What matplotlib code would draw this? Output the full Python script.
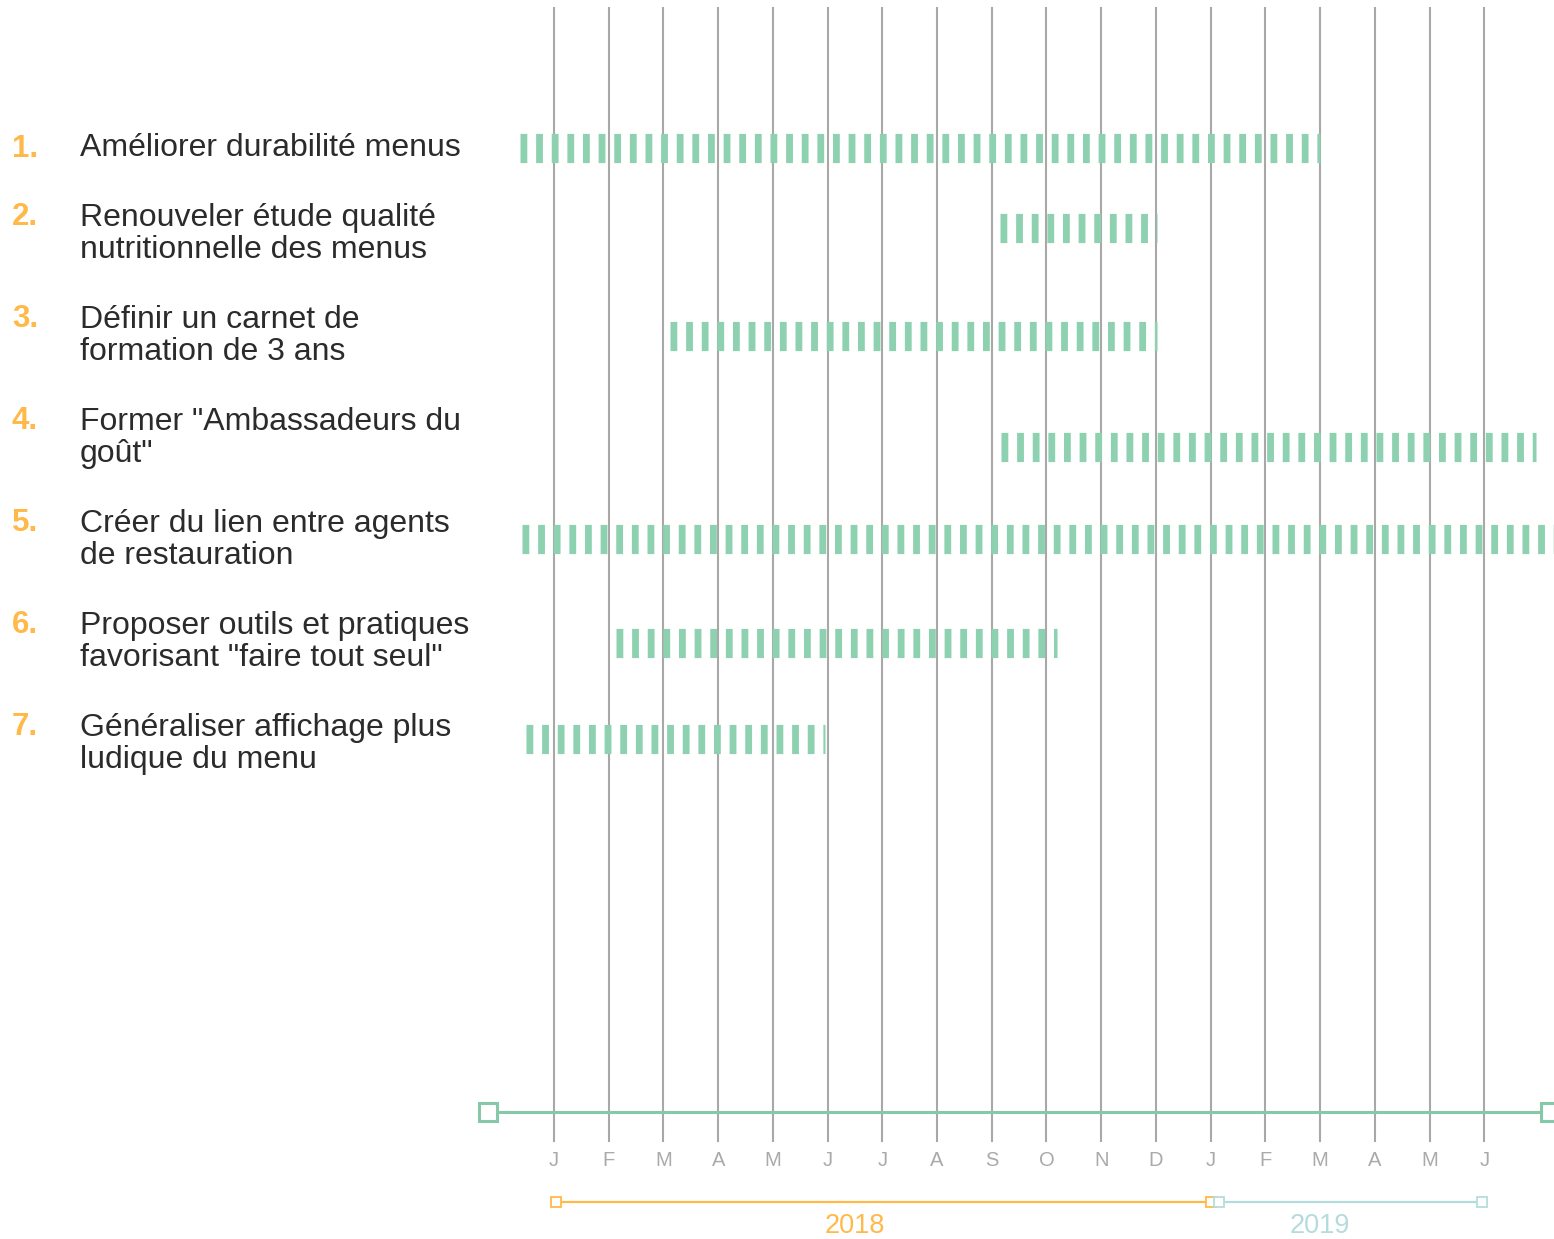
import matplotlib
matplotlib.use("Agg")
import matplotlib.pyplot as plt

plt.rcParams['font.family'] = ['Liberation Sans', 'DejaVu Sans']
plt.rcParams['lines.scale_dashes'] = False

# === Data (months counted from Jan 2018 = 0) ===
actions = [
    "Améliorer durabilité menus",
    "Renouveler étude qualité\nnutritionnelle des menus",
    "Définir un carnet de\nformation de 3 ans",
    "Former \"Ambassadeurs du\ngoût\"",
    "Créer du lien entre agents\nde restauration",
    "Proposer outils et pratiques\nfavorisant \"faire tout seul\"",
    "Généraliser affichage plus\nludique du menu",
]
start_month = [-0.62, 8.15, 2.12, 8.17, -0.58, 1.13, -0.51]
end_month = [14.0, 11.02, 11.02, 17.95, 18.6, 9.2, 4.96]

month_labels = ["J", "F", "M", "A", "M", "J", "J", "A", "S", "O", "N", "D",
                "J", "F", "M", "A", "M", "J"]
years = ["2018", "2019"]
year_start = [0.03, 12.15]
year_end = [12.0, 16.95]
year_label_at = [5.5, 14.0]
year_colors = ["#ffb948", "#b5dcdc"]

# === Layout (pixels) ===
W, H = 1554, 1239
px_month = 54.72
x0 = 554
bar_y = [148, 228, 336, 447, 539, 643, 739]
label_base = [156, 224, 326, 428, 530, 632, 734]
line_gap = 34

green = "#8dd1b0"
gray = "#a8a8a8"

fig = plt.figure(figsize=(W / 100, H / 100), dpi=100)
ax = fig.add_axes([0, 0, 1, 1])
ax.set_xlim(-x0 / px_month, (W - x0) / px_month)
ax.set_ylim(H, 0)
ax.axis('off')

# month grid lines
for m in range(len(month_labels)):
    ax.plot([m, m], [8, 1141], color=gray, lw=1.5, zorder=1)
    ax.text(m, 1160, month_labels[m], color="#aaaaaa", fontsize=14.5,
            ha='center', va='center')

# dashed bars + labels
for i in range(len(actions)):
    ax.plot([start_month[i], end_month[i]], [bar_y[i], bar_y[i]],
            color=green, lw=21, solid_capstyle='butt', dash_capstyle='butt',
            dashes=(4.9, 6.35), zorder=2)
    fig.text(12 / W, 1 - (label_base[i] + 1) / H, f"{i + 1}.", color="#ffb948",
             fontsize=22.5, fontweight='bold', ha='left', va='baseline')
    last_base = label_base[i] + line_gap * actions[i].count("\n")
    fig.text(80 / W, 1 - last_base / H, actions[i], color="#2b2b2b",
             fontsize=23, ha='left', va='baseline', linespacing=1.1)

# timeline axis
ax.plot([-1.2, 18.2], [1112, 1112], color="#85c9a8", lw=2.2, zorder=1)
ax.plot([-1.21, 18.2], [1112, 1112], ls='none', marker='s', ms=13,
        mfc='white', mec="#85c9a8", mew=2.2, zorder=3)

# year ranges
for k in range(len(years)):
    ax.plot([year_start[k], year_end[k]], [1202, 1202], color=year_colors[k],
            lw=1.6, marker='s', ms=6.5, mfc='white', mec=year_colors[k],
            mew=1.3, zorder=3)
    ax.text(year_label_at[k], 1226, years[k], color=year_colors[k],
            fontsize=19.5, ha='center', va='center')

fig.savefig("out.png", dpi=100)
